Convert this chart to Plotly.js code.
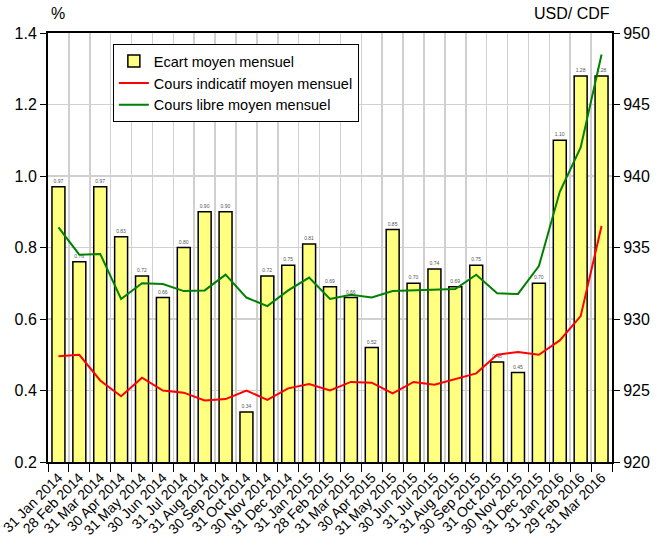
<!DOCTYPE html>
<html>
<head>
<meta charset="utf-8">
<script src="https://cdn.plot.ly/plotly-3.0.1.min.js"></script>
<style>html,body{margin:0;padding:0;background:#fff;}#chart{width:663px;height:552px;}</style>
</head>
<body>
<div id="chart"></div>
<script>
const categories = ["31 Jan 2014","28 Feb 2014","31 Mar 2014","30 Apr 2014","31 May 2014","30 Jun 2014","31 Jul 2014","31 Aug 2014","30 Sep 2014","31 Oct 2014","30 Nov 2014","31 Dec 2014","31 Jan 2015","28 Feb 2015","31 Mar 2015","30 Apr 2015","31 May 2015","30 Jun 2015","31 Jul 2015","31 Aug 2015","30 Sep 2015","31 Oct 2015","30 Nov 2015","31 Dec 2015","31 Jan 2016","29 Feb 2016","31 Mar 2016"];
const ecart = [0.97,0.76,0.97,0.83,0.72,0.66,0.80,0.90,0.90,0.34,0.72,0.75,0.81,0.69,0.66,0.52,0.85,0.70,0.74,0.69,0.75,0.48,0.45,0.70,1.10,1.28,1.28];
const coursIndicatif = [927.4,927.5,925.7,924.6,925.9,925.0,924.85,924.3,924.4,925.0,924.35,925.15,925.45,925.0,925.6,925.55,924.8,925.6,925.4,925.8,926.2,927.5,927.7,927.5,928.5,930.2,936.5];
const coursLibre = [936.4,934.5,934.55,931.4,932.5,932.45,931.95,932.0,933.1,931.5,930.9,932.0,932.9,931.4,931.7,931.5,931.95,932.0,932.1,932.1,933.1,931.8,931.75,933.7,938.9,942.0,948.5];
const leftTicks = [0.2,0.4,0.6,0.8,1.0,1.2,1.4];
const rightTicks = [920,925,930,935,940,945,950];

const FONT = "Liberation Sans, Arial, sans-serif";

const traces = [
  {
    type: "bar", name: "Ecart moyen mensuel", x: categories, y: ecart,
    marker: {color: "#ffff80", line: {color: "#000", width: 1.5}},
    width: 0.62,
    texttemplate: "%{y:.2f}", textposition: "outside",
    textfont: {size: 5, color: "#555", family: FONT},
    constraintext: "none", cliponaxis: false
  },
  {
    type: "scatter", mode: "lines", name: "Cours indicatif moyen mensuel",
    x: categories, y: coursIndicatif, yaxis: "y2",
    line: {color: "#ff0000", width: 2}
  },
  {
    type: "scatter", mode: "lines", name: "Cours libre moyen mensuel",
    x: categories, y: coursLibre, yaxis: "y2",
    line: {color: "#008000", width: 2}
  }
];

const layout = {
  width: 663, height: 552,
  margin: {l: 48, r: 51, t: 33, b: 90},
  paper_bgcolor: "#fff", plot_bgcolor: "#fff",
  font: {family: FONT, size: 16, color: "#000"},
  showlegend: true,
  bargap: 0.38,
  legend: {
    x: 0.115, y: 0.974, xanchor: "left", yanchor: "top",
    bgcolor: "#fff", bordercolor: "#000", borderwidth: 1,
    font: {size: 14.5, family: FONT}, tracegroupgap: 0
  },
  xaxis: {
    type: "category", tickmode: "array", tickvals: categories, ticktext: categories,
    tickangle: -45, tickson: "boundaries", ticks: "outside", ticklen: 8, tickcolor: "#000",
    tickfont: {size: 14, family: FONT},
    showgrid: true, gridcolor: "#d0d0d0", gridwidth: 1.5,
    showline: true, linecolor: "#000", linewidth: 2, mirror: true,
    automargin: false
  },
  yaxis: {
    range: [0.2, 1.4], tickmode: "array", tickvals: leftTicks, tickformat: ".1f",
    ticks: "outside", ticklen: 6, tickcolor: "#000",
    showgrid: true, gridcolor: "#d0d0d0", gridwidth: 1.5,
    showline: true, linecolor: "#000", linewidth: 2,
    zeroline: false, automargin: false
  },
  yaxis2: {
    range: [920, 950], overlaying: "y", side: "right", tickmode: "array", tickvals: rightTicks,
    ticks: "outside", ticklen: 6, tickcolor: "#000",
    showgrid: false, showline: true, linecolor: "#000", linewidth: 2,
    zeroline: false, automargin: false
  },
  annotations: [
    {text: "%", xref: "paper", yref: "paper", x: 0.018, y: 1.045, xanchor: "center", yanchor: "middle", showarrow: false, font: {size: 16, family: FONT}},
    {text: "USD/ CDF", xref: "paper", yref: "paper", x: 1.0, y: 1.045, xanchor: "right", yanchor: "middle", showarrow: false, font: {size: 16, family: FONT}}
  ]
};

Plotly.newPlot("chart", traces, layout, {staticPlot: true, displayModeBar: false});
</script>
</body>
</html>
